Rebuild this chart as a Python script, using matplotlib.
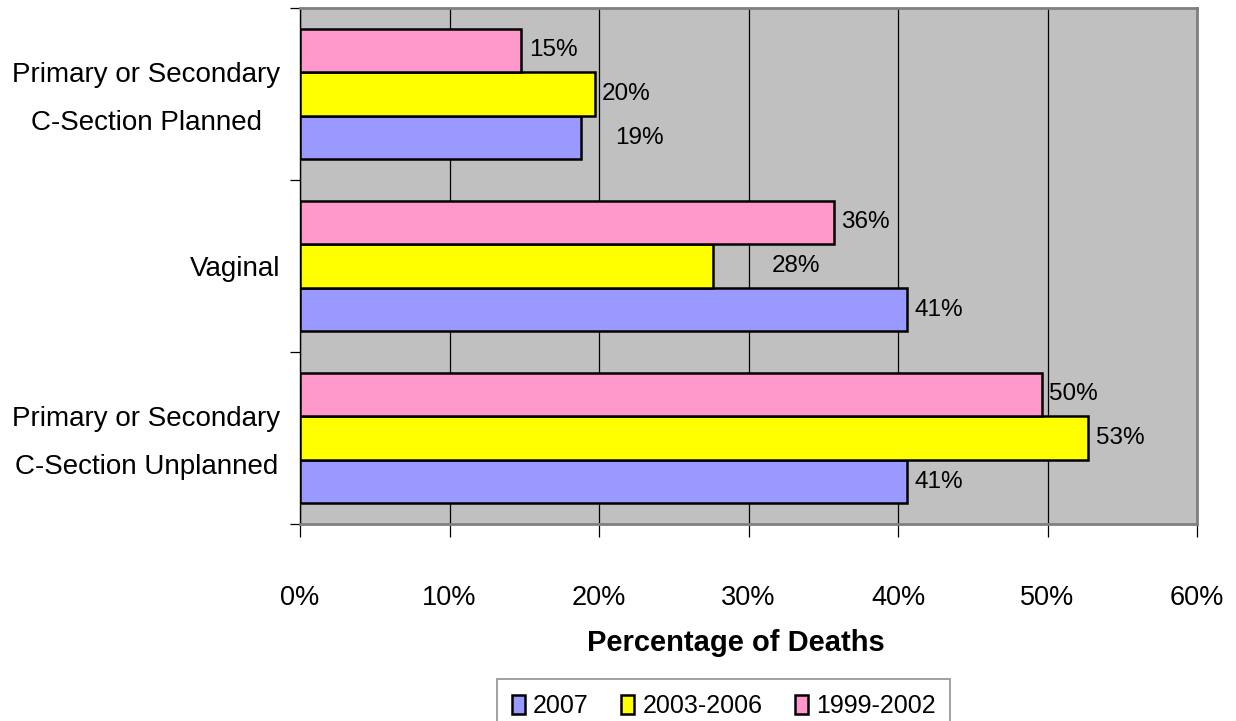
import matplotlib
matplotlib.use("Agg")
import matplotlib.pyplot as plt
import matplotlib.transforms as mtransforms
import numpy as np

# Delivery method categories, top to bottom
categories = [
    "Primary or Secondary\nC-Section Planned",
    "Vaginal",
    "Primary or Secondary\nC-Section Unplanned",
]
series_names = ["2007", "2003-2006", "1999-2002"]
# Percentage of deaths per category, one list per period
pct_2007 = [18.8, 40.6, 40.6]
pct_2003_2006 = [19.7, 27.6, 52.7]
pct_1999_2002 = [14.8, 35.7, 49.6]
x_ticks = [0, 10, 20, 30, 40, 50, 60]

colors = ["#9999FF", "#FFFF00", "#FF99CC"]
# extra horizontal nudge (points) for a few value labels
label_nudge = {("2007", 0): 19, ("2003-2006", 1): 37}

plt.rcParams["font.family"] = ["Liberation Sans", "DejaVu Sans"]

W, H = 1236, 721
fig = plt.figure(figsize=(W / 100, H / 100), dpi=100)
fig.patch.set_facecolor("white")
ax = fig.add_axes([300 / W, 1 - 524 / H, 897 / W, 516 / H])
ax.set_facecolor("#C0C0C0")

n = len(categories)
ypos = np.arange(n)[::-1].astype(float)  # first category on top
h = 0.253
offsets = [-h, 0.0, h]  # 2007 bottom, 2003-2006 middle, 1999-2002 top
series = [pct_2007, pct_2003_2006, pct_1999_2002]

handles = []
for name, vals, col, off in zip(series_names, series, colors, offsets):
    bars = ax.barh(ypos + off, vals, height=h, color=col, edgecolor="black",
                   linewidth=1.8, zorder=3, label=name)
    handles.append(bars)
    for i, (b, v) in enumerate(zip(bars, vals)):
        extra = label_nudge.get((name, i), 0)
        ax.annotate(f"{v:.0f}%", xy=(v, b.get_y() + b.get_height() / 2),
                    xytext=(5.5 + extra, 0), textcoords="offset points",
                    ha="left", va="center", fontsize=17.5, color="black", zorder=4)

ax.set_xlim(0, 60)
ax.set_ylim(-0.5, n - 0.5)
ax.set_xticks(x_ticks)
ax.set_xticklabels([f"{t}%" for t in x_ticks], fontsize=19.5)
ax.xaxis.grid(True, color="black", linewidth=0.9, zorder=1)
ax.set_axisbelow(True)
ax.tick_params(axis="x", direction="out", length=9, width=0.9, pad=35, colors="black")

ax.set_yticks(ypos)
ax.set_yticklabels(categories, fontsize=20, multialignment="center", linespacing=2.05)
ax.tick_params(axis="y", which="major", length=0, pad=14)
ax.set_yticks(np.arange(n + 1) - 0.5, minor=True)
ax.tick_params(axis="y", which="minor", direction="out", length=7, width=0.9)

# lift the two-line category labels slightly
lift = mtransforms.ScaledTranslation(0, 8.5 / 100, fig.dpi_scale_trans)
for lbl in ax.get_yticklabels():
    if "\n" in lbl.get_text():
        lbl.set_transform(lbl.get_transform() + lift)

for side in ["top", "right", "bottom"]:
    ax.spines[side].set_color("#808080")
    ax.spines[side].set_linewidth(2.0)
ax.spines["left"].set_color("black")
ax.spines["left"].set_linewidth(1.0)

fig.text(736 / W, 1 - 643 / H, "Percentage of Deaths", ha="center", va="center",
         fontsize=21, fontweight="bold")

leg = fig.legend(handles=handles, labels=series_names, ncol=3,
                 loc="upper left", bbox_to_anchor=(497 / W, 1 - 679 / H),
                 fontsize=18, frameon=True, fancybox=False, edgecolor="#808080",
                 handlelength=0.52, handleheight=0.8, handletextpad=0.32,
                 columnspacing=1.3, borderpad=0.6, borderaxespad=0)
leg.get_frame().set_linewidth(1.3)

fig.savefig("out.png", dpi=100)
